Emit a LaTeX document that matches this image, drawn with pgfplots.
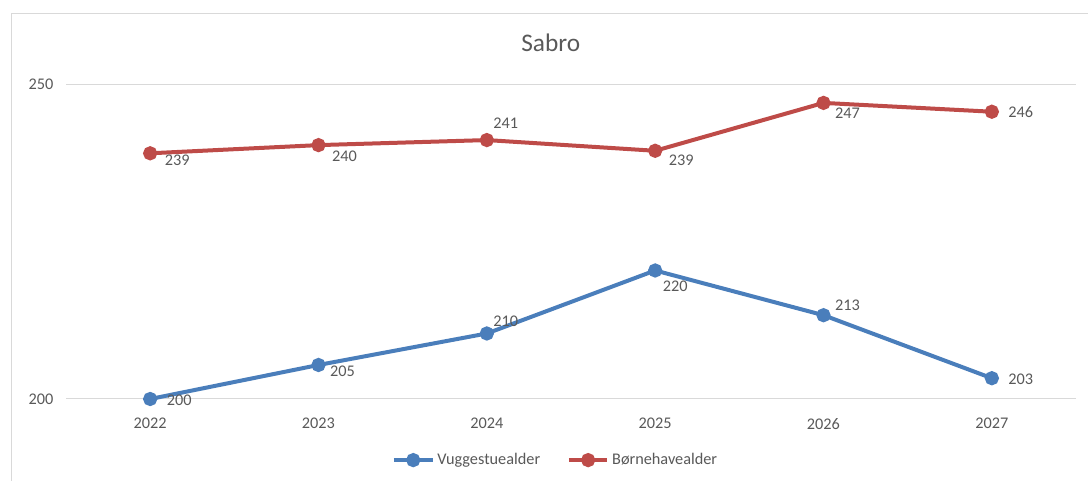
\documentclass[border=0pt]{standalone}
\usepackage{fontspec}
\setmainfont{Carlito}
\usepackage{pgfplots}
\usepackage{pgfplotstable}
\pgfplotsset{compat=1.18}

\definecolor{txt}{HTML}{595959}
\definecolor{grd}{HTML}{D9D9D9}
\definecolor{vug}{HTML}{4A7EBB}
\definecolor{bor}{HTML}{BE4B48}

% year, value, label, label offsets (pt)
\pgfplotstableread{
x    y      lab  dx     dy
2022 200.0  200  21.75  -0.75
2023 205.4  205  18     -4.5
2024 210.4  210  14.25  9
2025 220.4  220  15     -12
2026 213.3  213  18     7.5
2027 203.3  203  21.75  -0.75
}\vuggestue

\pgfplotstableread{
x    y      lab  dx     dy
2022 239.0  239  20.25  -5.25
2023 240.3  240  19.5   -8.25
2024 241.1  241  14.25  12.75
2025 239.4  239  19.5   -6.75
2026 247.0  247  18     -7.5
2027 245.6  246  21.75  0
}\boernehave

\begin{document}
\begin{tikzpicture}
\path[use as bounding box] (0,0) rectangle (816pt,360.75pt);
\draw[grd, line width=0.75pt] (8.25pt,0) -- (8.25pt,350.25pt) -- (816pt,350.25pt);
\begin{axis}[
    at={(49.5pt,61.5pt)}, anchor=south west,
    scale only axis,
    width=757.5pt, height=236.25pt,
    xmin=2021.5, xmax=2027.5,
    ymin=200, ymax=250,
    xtick={2022,...,2027},
    ytick={200,250},
    xticklabel style={/pgf/number format/1000 sep={}, yshift=-11pt},
    yticklabel style={xshift=-6pt},
    /pgf/number format/assume math mode=true,
    ymajorgrids,
    grid style={grd, line width=0.75pt},
    axis line style={draw=none},
    major tick length=0pt,
    tick label style={font=\fontsize{12.2}{14}\selectfont, text=txt},
    title={Sabro},
    title style={at={(0.48,1.105)}, anchor=center, font=\fontsize{19}{22}\selectfont, text=txt},
    clip=false,
    legend columns=2,
    legend style={at={(0.485,-0.194)}, anchor=center, draw=none,
        font=\fontsize{12.2}{14}\selectfont, text=txt,
        /tikz/every even column/.append style={column sep=18pt}},
    legend image code/.code={
        \draw[mark repeat=2,mark phase=2,#1] plot coordinates {(0pt,0pt) (14.5pt,0pt) (29pt,0pt)};},
    nodes near coords={\pgfplotspointmeta},
    point meta=explicit symbolic,
    visualization depends on={\thisrow{dx}\as\dx},
    visualization depends on={\thisrow{dy}\as\dy},
    every node near coord/.append style={anchor=center, xshift=\dx pt, yshift=\dy pt,
        font=\fontsize{12.2}{14}\selectfont, text=txt},
]
\addplot[vug, line width=3pt, mark=*, mark size=3.8pt, mark options={draw=none}] table[x=x, y=y, meta=lab] {\vuggestue};
\addlegendentry{Vuggestuealder}
\addplot[bor, line width=3pt, mark=*, mark size=3.8pt, mark options={draw=none}] table[x=x, y=y, meta=lab] {\boernehave};
\addlegendentry{Børnehavealder}
\end{axis}
\end{tikzpicture}
\end{document}
